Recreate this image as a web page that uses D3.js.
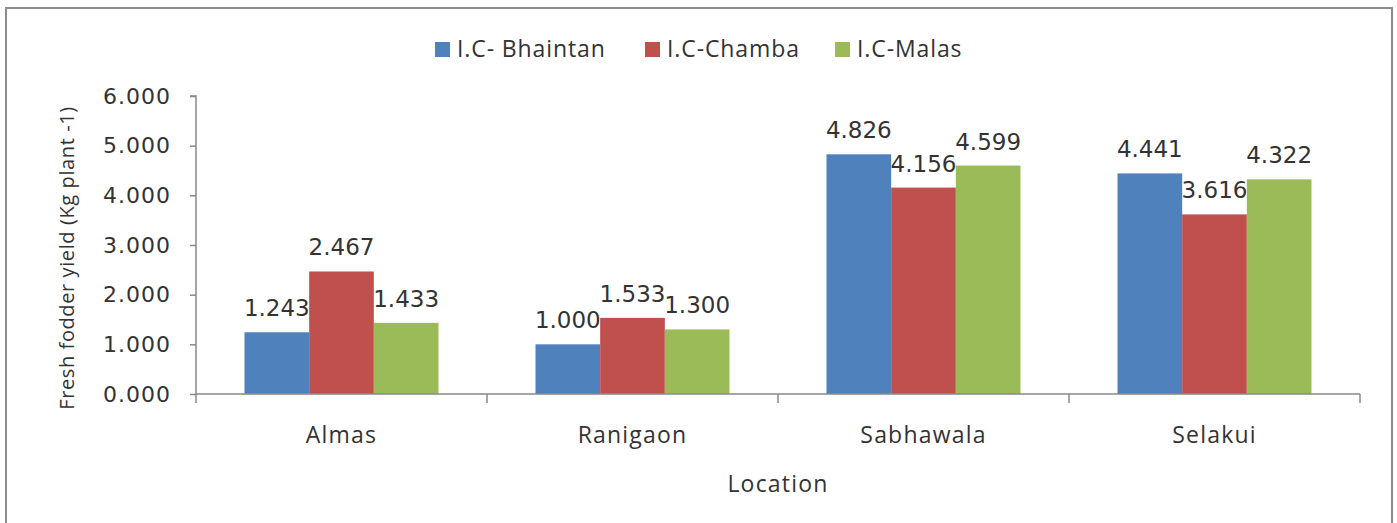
<!DOCTYPE html>
<html>
<head>
<meta charset="utf-8">
<script src="https://cdn.jsdelivr.net/npm/d3@7"></script>
<style>
  body { margin: 0; background: #fff; }
  text { fill: #333; }
</style>
</head>
<body>
<div id="chart"></div>
<script>
const locations = ["Almas", "Ranigaon", "Sabhawala", "Selakui"];
const seriesNames = ["I.C- Bhaintan", "I.C-Chamba", "I.C-Malas"];
const bhaintan = [1.243, 1.000, 4.826, 4.441];
const chamba = [2.467, 1.533, 4.156, 3.616];
const malas = [1.433, 1.300, 4.599, 4.322];
const yTicks = [0, 1, 2, 3, 4, 5, 6];
const colors = ["#4F81BD", "#C0504D", "#9BBB59"];

const seriesValues = [bhaintan, chamba, malas];
const data = locations.map((loc, i) => ({
    loc: loc,
    values: seriesNames.map((s, j) => ({ series: s, value: seriesValues[j][i] }))
}));

const W = 1397, H = 523;
const plot = { left: 196, right: 1360, top: 96, bottom: 394 };

const svg = d3.select("#chart").append("svg")
    .attr("width", W)
    .attr("height", H);

svg.append("rect")
    .attr("x", 6).attr("y", 8)
    .attr("width", 1386).attr("height", 530)
    .attr("fill", "#fff")
    .attr("stroke", "#8c8c8c")
    .attr("stroke-width", 2);

const x = d3.scaleBand()
    .domain(locations)
    .range([plot.left, plot.right])
    .padding(0);

const xs = d3.scaleBand()
    .domain(seriesNames)
    .range([0, x.bandwidth()])
    .paddingInner(0)
    .paddingOuter(0.75);

const y = d3.scaleLinear()
    .domain([0, 6])
    .range([plot.bottom, plot.top]);

// y axis
const yAxis = svg.append("g")
    .attr("transform", `translate(${plot.left},0)`)
    .call(d3.axisLeft(y).tickValues(yTicks).tickFormat(d3.format(".3f")).tickSize(6).tickPadding(19));
yAxis.selectAll("path, line").attr("stroke", "#888").attr("stroke-width", 1.5);
yAxis.select(".domain").attr("d", `M-6,${plot.top}H0V${plot.bottom}`);
yAxis.selectAll("text")
    .style("font-family", "DejaVu Sans")
    .style("font-size", "22px")
    .style("letter-spacing", "1px")
    .attr("fill", "#333");

// bars
const groups = svg.selectAll("g.grp")
    .data(data)
    .enter()
    .append("g")
    .attr("class", "grp")
    .attr("transform", d => `translate(${x(d.loc)},0)`);

groups.selectAll("rect")
    .data(d => d.values)
    .enter()
    .append("rect")
    .attr("x", d => xs(d.series))
    .attr("y", d => y(d.value))
    .attr("width", xs.bandwidth())
    .attr("height", d => y(0) - y(d.value))
    .attr("fill", (d, i) => colors[i]);

groups.selectAll("text.lbl")
    .data(d => d.values)
    .enter()
    .append("text")
    .attr("class", "lbl")
    .attr("x", d => xs(d.series) + xs.bandwidth() / 2)
    .attr("y", d => y(d.value) - 16)
    .attr("text-anchor", "middle")
    .style("font-family", "DejaVu Sans")
    .style("font-size", "23px")
    .attr("fill", "#222")
    .text(d => d.value.toFixed(3));

// x axis
const xAxis = svg.append("g")
    .attr("transform", `translate(0,${plot.bottom})`)
    .call(d3.axisBottom(x).tickSize(0).tickFormat(""));
xAxis.select(".domain").attr("stroke", "#888").attr("stroke-width", 1.5)
    .attr("d", `M${plot.left},0H${plot.right}`);
xAxis.selectAll(".tick").remove();

const bounds = locations.map(d => x(d)).concat([x.range()[1]]);
xAxis.selectAll("line.bound")
    .data(bounds)
    .enter()
    .append("line")
    .attr("class", "bound")
    .attr("x1", d => d).attr("x2", d => d)
    .attr("y1", 0).attr("y2", 9)
    .attr("stroke", "#888")
    .attr("stroke-width", 1.5);

svg.selectAll("text.cat")
    .data(locations)
    .enter()
    .append("text")
    .attr("class", "cat")
    .attr("x", d => x(d) + x.bandwidth() / 2)
    .attr("y", 443)
    .attr("text-anchor", "middle")
    .style("font-family", "Open Sans")
    .style("font-size", "23px")
    .style("letter-spacing", "1.2px")
    .text(d => d);

svg.append("text")
    .attr("x", (plot.left + plot.right) / 2)
    .attr("y", 492)
    .attr("text-anchor", "middle")
    .style("font-family", "Open Sans")
    .style("font-size", "23px")
    .style("letter-spacing", "1.2px")
    .text("Location");

svg.append("text")
    .attr("transform", "rotate(-90)")
    .attr("x", -258)
    .attr("y", 74)
    .attr("text-anchor", "middle")
    .style("font-family", "Open Sans")
    .style("font-size", "20px")
    .style("letter-spacing", "0.6px")
    .text("Fresh fodder yield (Kg plant -1)");

// legend
const legendX = [435, 645, 835];
const legend = svg.selectAll("g.leg")
    .data(seriesNames)
    .enter()
    .append("g")
    .attr("class", "leg")
    .attr("transform", (d, i) => `translate(${legendX[i]},0)`);

legend.append("rect")
    .attr("x", 0).attr("y", 42)
    .attr("width", 15).attr("height", 15)
    .attr("fill", (d, i) => colors[i]);

legend.append("text")
    .attr("x", 22)
    .attr("y", 57)
    .style("font-family", "Open Sans")
    .style("font-size", "23px")
    .style("letter-spacing", "0.9px")
    .text(d => d);
</script>
</body>
</html>
